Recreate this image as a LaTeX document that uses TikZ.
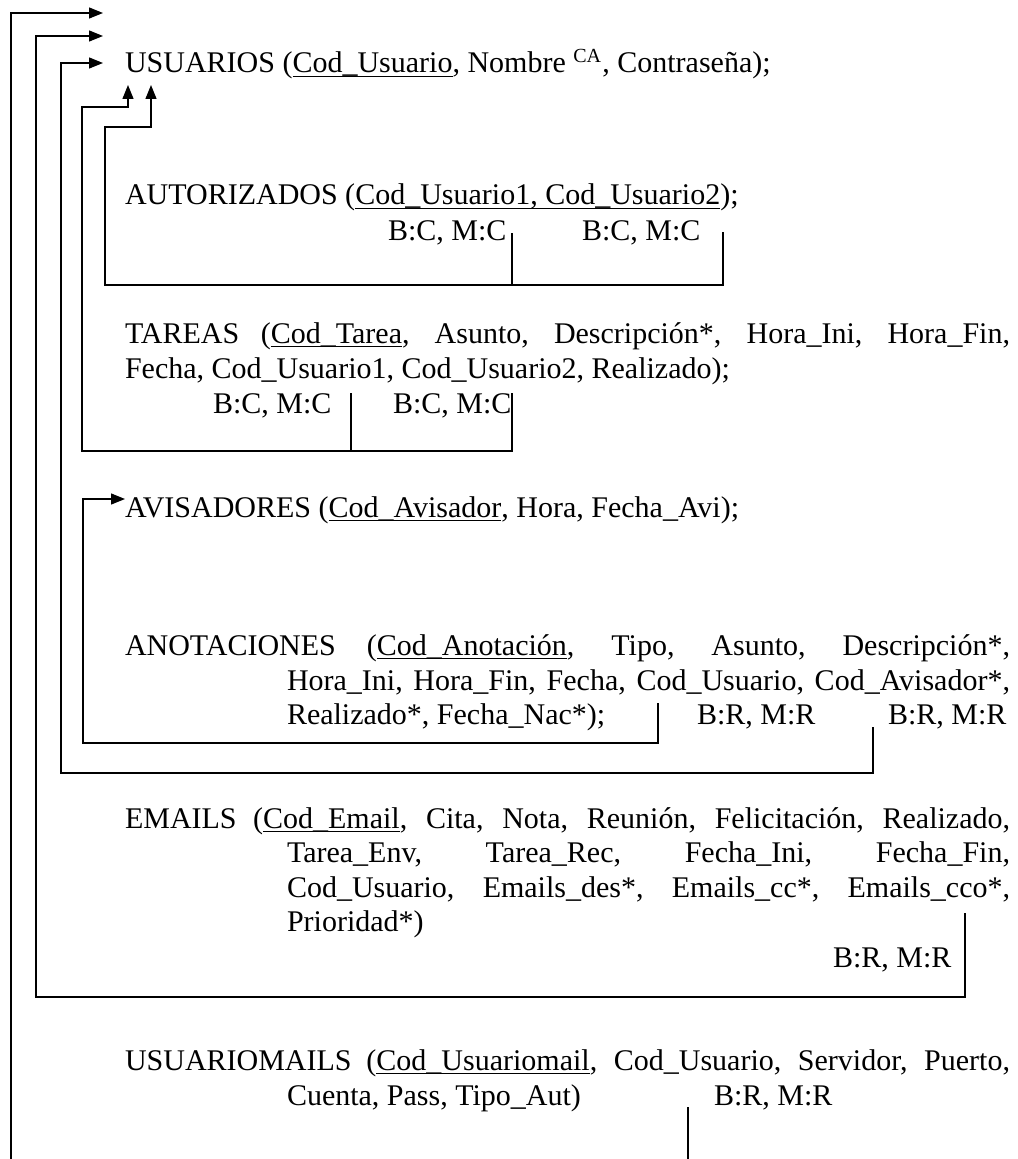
\documentclass[tikz,border=0pt]{standalone}
\usepackage{fontspec}
\setmainfont{Liberation Serif}
\usetikzlibrary{arrows.meta}
% justified lines: full width from the left margin, and hanging-indent width
\newcommand\wideline[1]{\makebox[354pt][s]{#1}}
\newcommand\hangline[1]{\makebox[289.2pt][s]{#1}}
% primary-key underline, level with the underscore
\newcommand\keyul[1]{\setbox0=\hbox{#1}\rlap{\rule[-1.7pt]{\wd0}{0.6pt}}\box0}
\begin{document}
\begin{tikzpicture}[x=0.4pt,y=-0.4pt,
  txt/.style={anchor=base west,inner sep=0pt,outer sep=0pt,font=\fontsize{12}{13.8}\selectfont},
  link/.style={line width=0.5pt},
  tolink/.style={link,-{Triangle[length=5.6pt,width=4.4pt]}}]
\useasboundingbox (0,0) rectangle (1018,1159);

% ---- relations ----
\node[txt] (usuarios) at (125,73) {USUARIOS (\keyul{Cod\_Usuario}, Nombre \textsuperscript{CA}, Contraseña);};

\node[txt] (autorizados) at (125,205) {AUTORIZADOS (\keyul{Cod\_Usuario1, Cod\_Usuario2});};
\node[txt] (autBC1) at (388,240) {B:C, M:C};
\node[txt] (autBC2) at (582,240) {B:C, M:C};

\node[txt] (tareas1) at (125,343) {\wideline{TAREAS (\keyul{Cod\_Tarea}, Asunto, Descripción*, Hora\_Ini, Hora\_Fin,}};
\node[txt] (tareas2) at (125,378) {Fecha, Cod\_Usuario1, Cod\_Usuario2, Realizado);};
\node[txt] (tarBC1) at (213,413) {B:C, M:C};
\node[txt] (tarBC2) at (393,413) {B:C, M:C};

\node[txt] (avisadores) at (125,517) {AVISADORES (\keyul{Cod\_Avisador}, Hora, Fecha\_Avi);};

\node[txt] (anot1) at (125,655) {\wideline{ANOTACIONES (\keyul{Cod\_Anotación}, Tipo, Asunto, Descripción*,}};
\node[txt] (anot2) at (287,690) {\hangline{Hora\_Ini, Hora\_Fin, Fecha, Cod\_Usuario, Cod\_Avisador*,}};
\node[txt] (anot3) at (287,724) {Realizado*, Fecha\_Nac*);};
\node[txt] (anotBR1) at (697,724) {B:R, M:R};
\node[txt] (anotBR2) at (888,724) {B:R, M:R};

\node[txt] (emails1) at (125,828) {\wideline{EMAILS (\keyul{Cod\_Email}, Cita, Nota, Reunión, Felicitación, Realizado,}};
\node[txt] (emails2) at (287,862) {\hangline{Tarea\_Env, Tarea\_Rec, Fecha\_Ini, Fecha\_Fin,}};
\node[txt] (emails3) at (287,897) {\hangline{Cod\_Usuario, Emails\_des*, Emails\_cc*, Emails\_cco*,}};
\node[txt] (emails4) at (287,931) {Prioridad*)};
\node[txt] (emailsBR) at (833,967) {B:R, M:R};

\node[txt] (umails1) at (125,1070) {\wideline{USUARIOMAILS (\keyul{Cod\_Usuariomail}, Cod\_Usuario, Servidor, Puerto,}};
\node[txt] (umails2) at (287,1105) {Cuenta, Pass, Tipo\_Aut)};
\node[txt] (umailsBR) at (714,1105) {B:R, M:R};

% ---- foreign-key stubs ----
\coordinate (fkAut1) at (512,233);
\coordinate (fkAut2) at (723,232);
\coordinate (fkTar1) at (351,393);
\coordinate (fkTar2) at (512,393);
\coordinate (fkAnotAvi) at (658,703);
\coordinate (fkAnotUsr) at (873,727);
\coordinate (fkEmail) at (965,913);
\coordinate (fkUmail) at (688,1107);

% ---- arrow targets ----
\coordinate (inUsrA) at (103,13);
\coordinate (inUsrB) at (103,36);
\coordinate (inUsrC) at (103,63);
\coordinate (inUsrUpA) at (128,85);
\coordinate (inUsrUpB) at (151,85);
\coordinate (inAvi) at (125,499);

% ---- references ----
\draw[tolink] (fkAut2) |- (105,285) -- (105,127) -| (inUsrUpB);
\draw[link] (fkAut1) -- (512,285);

\draw[tolink] (fkTar2) |- (82,451) -- (82,107) -| (inUsrUpA);
\draw[link] (fkTar1) -- (351,451);

\draw[tolink] (fkAnotAvi) |- (83,743) |- (inAvi);
\draw[tolink] (fkAnotUsr) |- (61,773) |- (inUsrC);

\draw[tolink] (fkEmail) |- (36,997) |- (inUsrB);

\draw[tolink] (11,1159) |- (inUsrA);
\draw[link] (fkUmail) -- (688,1159);
\end{tikzpicture}
\end{document}
